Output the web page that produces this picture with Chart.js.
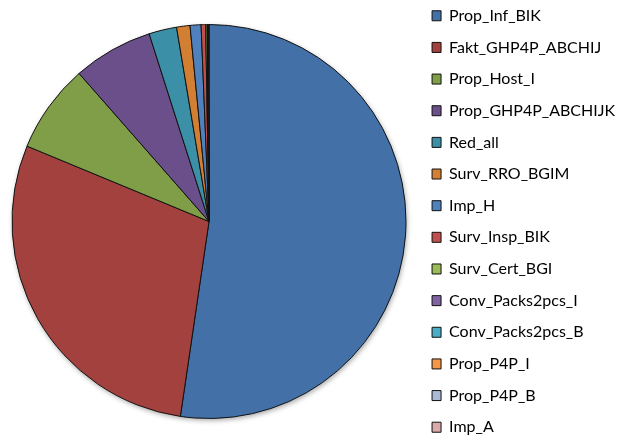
<!DOCTYPE html>
<html>
<head>
<meta charset="utf-8">
<script src="https://cdn.jsdelivr.net/npm/chart.js@4/dist/chart.umd.min.js"></script>
<style>
  html, body { margin: 0; padding: 0; background: #fff; overflow: hidden; width: 617px; height: 441px; }
  #wrap { position: absolute; left: 0; top: -9px; width: 617px; height: 461px; }
</style>
</head>
<body>
<div id="wrap"><canvas id="c" width="617" height="461"></canvas></div>
<script>
const categories = ["Prop_Inf_BIK", "Fakt_GHP4P_ABCHIJ", "Prop_Host_I", "Prop_GHP4P_ABCHIJK", "Red_all", "Surv_RRO_BGIM", "Imp_H", "Surv_Insp_BIK", "Surv_Cert_BGI", "Conv_Packs2pcs_I", "Conv_Packs2pcs_B", "Prop_P4P_I", "Prop_P4P_B", "Imp_A"];
const shares = [52.4, 28.97, 7.3, 6.56, 2.28, 1.1, 0.9, 0.37, 0.12, 0.03, 0.03, 0.03, 0.03, 0.03];
const colors = ["#4270A7", "#A3413E", "#809E48", "#6A4F8A", "#3B8FA6", "#D27F34", "#4F81BD", "#C0504D", "#9BBB59", "#8064A2", "#4BACC6", "#F79646", "#AAB9D7", "#D9AAA9"];

const LEGEND_W = 200.6;

const legendWidthPlugin = {
  id: 'legendWidth',
  beforeLayout(chart) {
    const lg = chart.legend;
    if (lg && !lg._patched) {
      const orig = lg.fit;
      lg.fit = function () { orig.call(this); this.width = LEGEND_W; };
      lg._patched = true;
    }
  }
};

const shadowPlugin = {
  id: 'pieShadow',
  beforeDatasetsDraw(chart) {
    const arc = chart.getDatasetMeta(0).data[0];
    if (!arc) return;
    const ctx = chart.ctx;
    ctx.save();
    ctx.shadowColor = 'rgba(0,0,0,0.35)';
    ctx.shadowBlur = 5;
    ctx.shadowOffsetX = 1;
    ctx.shadowOffsetY = 2;
    ctx.fillStyle = '#ffffff';
    ctx.beginPath();
    ctx.arc(arc.x, arc.y, arc.outerRadius, 0, Math.PI * 2);
    ctx.fill();
    ctx.restore();
  }
};

new Chart(document.getElementById('c'), {
  type: 'pie',
  data: {
    labels: categories,
    datasets: [{
      data: shares,
      backgroundColor: colors,
      borderColor: '#111111',
      borderWidth: 1,
      radius: 197
    }]
  },
  options: {
    responsive: false,
    animation: false,
    layout: { padding: { left: 1.6, right: 0, top: 0, bottom: 0 } },
    plugins: {
      tooltip: { enabled: false },
      legend: {
        position: 'right',
        align: 'center',
        labels: {
          boxWidth: 9,
          boxHeight: 10,
          padding: 15.65,
          color: '#000000',
          font: { family: 'Lato', size: 16 }
        }
      }
    }
  },
  plugins: [legendWidthPlugin, shadowPlugin]
});
</script>
</body>
</html>
